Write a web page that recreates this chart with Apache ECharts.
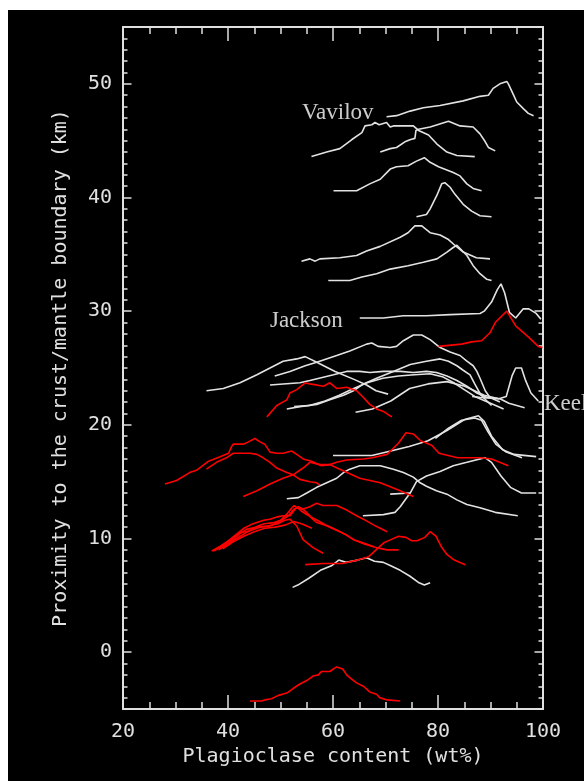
<!DOCTYPE html>
<html>
<head>
<meta charset="utf-8">
<script src="https://cdn.jsdelivr.net/npm/echarts@6/dist/echarts.min.js"></script>
<style>
html,body{margin:0;padding:0;background:#fff;width:584px;height:781px;overflow:hidden;}
#chart{position:absolute;left:8px;top:10px;width:576px;height:771px;}
</style>
</head>
<body>
<div id="chart"></div>
<script>
// ---- axis ranges / ticks ----
const xRange = [20, 100];
const yRange = [-5, 55];
const yMajorTicks = [0, 10, 20, 30, 40, 50];

// ---- annotations: [text, x, y] ----
const annotations = [
  ['Vavilov', 53.9, 47.4],
  ['Jackson', 47.8, 29.1],
  ['Keeler', 100, 21.8]
];

// ---- white profiles ----
const wVavilov = [[70.2,47.1],[72.1,47.2],[74.7,47.6],[77.2,47.9],[80.4,48.1],[84.8,48.5],[88.0,48.9],[89.6,49.0],[90.5,49.6],[91.8,50.0],[93.1,50.2],[93.4,50.0],[94.4,49.0],[95.0,48.4],[96.3,47.8],[97.2,47.4],[98.2,47.2]];
const wV2 = [[55.9,43.6],[58.8,44.0],[61.3,44.3],[63.6,45.1],[65.5,45.7],[66.1,46.3],[67.4,46.4],[68.0,46.6],[68.8,46.4],[70.2,46.6],[70.9,46.2],[71.5,46.3],[75.3,46.3],[76.3,45.9],[78.2,45.5],[79.8,44.7],[81.7,44.0],[83.6,43.7],[87.0,43.6]];
const wV3 = [[69.0,44.0],[70.9,44.3],[72.1,44.4],[73.7,44.9],[74.8,45.1],[75.6,45.2],[75.8,45.9],[76.3,46.0],[78.5,46.2],[82.0,46.7],[84.2,46.3],[86.7,46.2],[88.0,45.6],[89.0,44.9],[89.6,44.4],[90.9,44.1]];
const wV4 = [[60.1,40.6],[64.5,40.6],[67.0,41.2],[69.0,41.6],[70.9,42.5],[72.1,42.7],[74.3,42.8],[75.9,43.2],[77.4,43.5],[78.5,43.1],[80.1,42.7],[82.9,42.2],[84.2,41.9],[85.5,41.2],[86.7,40.8],[88.3,40.6]];
const wV5 = [[75.9,38.3],[77.8,38.5],[78.5,39.0],[79.8,40.2],[80.7,41.2],[81.3,41.3],[82.3,40.9],[83.2,40.3],[84.8,39.4],[86.4,38.8],[88.0,38.4],[90.2,38.3]];
const wV6 = [[54.0,34.4],[55.6,34.6],[56.6,34.4],[57.5,34.6],[61.3,34.7],[64.5,34.9],[66.4,35.3],[69.0,35.7],[72.8,36.5],[74.3,36.9],[75.6,37.5],[76.9,37.5],[78.5,36.9],[80.4,36.7],[82.0,36.3],[83.2,35.8],[84.8,35.2],[87.3,34.7],[89.9,34.6]];
const wV7 = [[59.1,32.7],[63.2,32.7],[65.5,33.0],[68.3,33.3],[70.9,33.7],[74.3,34.0],[77.2,34.3],[79.8,34.6],[81.7,35.2],[82.9,35.6],[83.6,35.8],[85.5,34.9],[86.7,34.0],[88.0,33.3],[89.3,32.8],[90.2,32.7]];
const wJackson = [[65.1,29.4],[69.6,29.4],[73.4,29.6],[77.8,29.6],[82.3,29.7],[88.0,29.8],[88.8,30.0],[90.2,30.8],[91.3,31.9],[92.0,32.4],[92.7,31.6],[93.6,29.9],[94.8,29.4],[96.2,30.2],[97.3,30.2],[98.7,29.8],[99.6,29.3]];
const wC1 = [[35.9,23.0],[39.1,23.2],[42.3,23.7],[45.5,24.4],[48.0,25.0],[50.5,25.6],[53.1,25.8],[54.7,26.0],[56.9,25.5],[60.4,24.7],[64.0,24.0],[66.4,23.5],[68.2,23.0],[70.5,22.7]];
const wC2 = [[48.9,24.3],[51.8,24.7],[54.7,25.2],[56.9,25.5],[60.7,26.1],[63.2,26.5],[66.4,27.1],[67.4,27.2],[68.6,26.9],[70.9,26.8],[72.1,26.9],[73.4,27.4],[75.3,27.9],[76.9,27.9],[78.5,27.5],[80.4,26.8],[82.3,26.4],[84.2,26.1],[85.5,25.6],[86.7,25.2],[87.4,24.7],[88.0,24.1],[89.0,23.0],[89.9,22.4],[91.8,22.0]];
const wC3 = [[48.0,23.5],[53.7,23.7],[55.6,23.9],[60.1,24.4],[62.6,24.7],[65.1,24.7],[67.0,24.6],[69.6,24.7],[72.8,24.7],[75.3,24.6],[77.8,24.7],[79.7,24.6],[81.7,24.3],[83.6,23.9],[85.5,23.4],[87.4,22.8],[89.3,22.4],[91.8,22.3],[93.5,21.9],[96.5,21.5]];
const wC4a = [[51.2,21.4],[53.7,21.6],[56.9,21.8],[59.4,22.2],[62.0,22.6],[63.9,23.0],[65.8,23.6],[68.3,24.1],[71.5,24.7],[74.7,25.3],[77.8,25.6],[80.4,25.8],[82.0,25.6],[83.6,25.2],[84.8,24.8],[86.1,24.4],[87.0,23.6],[88.2,22.6],[90.2,21.7]];
const wC4b = [[52.6,21.6],[55.5,21.7],[58.5,22.1],[61.2,22.6],[63.5,23.1],[66.5,23.7],[69.5,24.1],[72.5,24.3],[75.5,24.4],[78.5,24.5],[81.0,24.2],[83.0,23.7],[85.0,23.1],[87.0,22.5],[90.0,21.9],[92.5,21.4]];
const wC5 = [[64.3,21.1],[67.5,21.4],[71.0,22.1],[74.6,23.2],[78.1,23.6],[81.7,23.8],[85.1,23.4],[88.8,22.6],[91.6,22.3]];
const wKeeler = [[86.5,22.5],[88.1,22.4],[91.6,22.3],[93.0,22.5],[94.1,24.3],[94.8,25.0],[95.9,25.0],[96.6,24.0],[97.7,22.8],[99.1,22.1]];
const wB1 = [[60.0,17.3],[67.4,17.3],[71.0,17.7],[74.5,18.1],[78.1,18.6],[81.7,19.5],[85.2,20.5],[87.7,20.8],[88.8,20.3],[90.2,19.0],[92.3,17.8],[94.5,17.4],[98.7,17.2]];
const wB2 = [[79.5,18.8],[82.0,19.7],[84.5,20.4],[87.0,20.6],[88.3,20.4],[89.5,19.4],[91.0,18.3],[93.0,17.6],[96.0,17.1]];
const wCc = [[51.2,13.5],[53.4,13.6],[55.0,14.0],[56.9,14.5],[58.8,14.9],[60.7,15.3],[62.0,15.8],[63.2,16.1],[65.1,16.4],[67.0,16.4],[69.0,16.4],[71.5,16.1],[73.4,15.8],[75.3,15.4],[76.6,14.9],[77.8,14.6],[79.7,14.2],[81.7,13.9],[83.6,13.4],[85.5,13.0],[88.0,12.7],[90.9,12.3],[95.2,12.0]];
const wD = [[65.7,12.0],[69.6,12.1],[71.8,12.3],[72.8,12.8],[73.9,13.5],[74.7,14.0],[75.9,15.0],[77.8,15.5],[80.4,15.9],[82.9,16.4],[85.5,16.7],[88.0,17.0],[89.0,17.1],[90.2,16.7],[92.0,15.5],[93.8,14.5],[95.9,14.0],[98.7,14.0]];
const wE = [[70.9,13.9],[74.7,14.0]];
const wF = [[52.3,5.7],[53.3,5.9],[55.4,6.5],[57.6,7.2],[59.7,7.6],[61.1,8.1],[62.5,7.9],[64.7,8.1],[66.4,8.3],[67.9,8.0],[69.6,7.9],[71.0,7.6],[72.8,7.2],[74.6,6.7],[76.4,6.1],[77.4,5.9],[78.5,6.1]];

// ---- red profiles ----
const rJ = [[80.1,26.9],[84.5,27.1],[86.4,27.3],[88.3,27.4],[89.9,28.1],[90.9,29.0],[93.1,30.0],[94.8,28.7],[97.3,27.7],[99.1,26.9],[99.9,26.8]];
const rC = [[47.4,20.7],[49.3,21.7],[51.2,22.2],[51.8,22.8],[53.1,23.1],[54.7,23.7],[55.6,23.6],[58.2,23.4],[59.4,23.7],[60.7,23.2],[62.6,23.3],[64.5,23.0],[65.8,22.4],[67.0,21.8],[68.3,21.4],[69.5,21.2],[71.2,20.7]];
const rB = [[42.9,13.7],[45.5,14.2],[48.0,14.8],[50.5,15.3],[52.4,15.6],[54.3,16.2],[55.6,16.7],[57.5,16.5],[59.4,16.5],[60.7,16.7],[62.6,16.9],[65.8,17.0],[67.5,17.1],[70.3,17.4],[72.5,18.4],[73.9,19.3],[75.3,19.2],[76.7,18.6],[78.8,18.2],[80.2,17.5],[83.7,17.1],[85.9,17.1],[88.0,17.1],[90.2,17.0],[93.4,16.4]];
const rA = [[28.0,14.8],[30.2,15.1],[32.7,15.8],[34.0,16.0],[36.3,16.8],[38.5,17.2],[40.1,17.5],[40.7,18.1],[41.0,18.3],[42.9,18.3],[43.9,18.5],[45.1,18.8],[46.1,18.5],[47.0,18.3],[48.0,17.6],[49.3,17.5],[50.5,17.5],[52.1,17.7],[53.1,17.4],[54.3,17.0],[55.9,16.8],[57.8,16.4],[59.4,16.5],[61.3,16.1],[65.1,15.3],[69.0,14.9],[72.8,14.2],[75.3,13.7]];
const rA2 = [[35.9,16.1],[37.8,16.7],[39.7,17.1],[41.0,17.5],[44.2,17.5],[45.5,17.4],[46.7,17.1],[48.0,16.7],[49.3,16.2],[51.2,15.8],[52.4,15.6],[53.7,15.2],[55.6,15.0],[56.9,14.9],[57.5,14.7]];
const rL1 = [[36.9,8.9],[38.5,9.3],[40.4,9.9],[41.7,10.4],[43.0,10.9],[44.3,11.2],[45.5,11.4],[46.8,11.6],[48.0,11.7],[49.3,11.9],[50.5,12.0],[51.8,12.0],[52.8,12.6],[53.4,12.8],[54.3,12.6],[55.6,12.8],[56.9,13.1],[58.1,12.9],[59.4,12.9],[60.7,12.9],[62.6,12.5],[64.5,12.0],[65.8,11.7],[67.7,11.2],[69.0,10.9],[70.3,10.6]];
const rL2 = [[37.2,8.9],[39.0,9.3],[40.8,9.9],[42.5,10.5],[44.3,10.7],[46.1,11.0],[48.0,11.1],[49.9,11.5],[51.5,12.0],[52.6,12.6],[53.3,12.7],[54.0,12.4],[55.4,12.0],[56.9,11.4],[59.0,11.1],[61.8,10.5],[64.0,9.9],[66.1,9.5],[68.2,9.2],[70.3,9.0],[72.5,9.0]];
const rL3 = [[37.5,9.0],[39.5,9.6],[41.5,10.3],[43.5,10.8],[45.5,11.0],[47.5,11.1],[49.5,11.3],[50.8,11.6],[51.8,11.7],[53.1,11.1],[54.3,9.9],[56.2,9.2],[58.1,8.7]];
const rL4 = [[38.2,9.0],[40.0,9.5],[41.6,10.0],[43.8,10.6],[45.7,11.1],[46.9,11.3],[48.8,11.4],[50.0,11.6],[51.3,12.2],[52.2,12.7],[52.6,12.9],[53.2,12.7],[54.5,12.5],[55.8,11.9],[57.0,11.6],[58.9,11.1],[60.8,10.7],[62.6,10.3],[63.9,9.9],[65.8,9.6],[67.7,9.3]];
const rL5 = [[39.0,9.1],[41.0,9.7],[43.0,10.2],[45.0,10.6],[47.0,10.9],[49.0,11.0],[51.0,11.2],[52.5,11.5],[54.0,11.3],[56.0,10.9]];
const rM = [[54.7,7.7],[58.3,7.8],[61.8,7.8],[64.7,8.1],[66.8,8.4],[68.2,9.0],[69.6,9.6],[71.0,9.9],[72.5,10.2],[73.9,10.1],[75.0,9.8],[76.0,9.8],[77.5,10.1],[78.5,10.6],[79.6,10.2],[80.6,9.3],[81.7,8.6],[83.1,8.1],[85.2,7.7]];
const rBottom = [[44.2,-4.3],[46.4,-4.3],[47.0,-4.2],[48.3,-4.1],[49.6,-3.8],[51.2,-3.6],[52.4,-3.2],[53.7,-2.8],[55.0,-2.5],[56.2,-2.1],[57.2,-2.0],[57.8,-1.7],[59.4,-1.7],[60.0,-1.5],[60.7,-1.3],[61.3,-1.4],[61.9,-1.5],[62.6,-2.0],[63.6,-2.4],[64.5,-2.7],[65.8,-3.0],[67.0,-3.5],[68.3,-3.7],[68.9,-4.0],[70.3,-4.2],[72.8,-4.3]];

const whiteProfiles = [wVavilov,wV2,wV3,wV4,wV5,wV6,wV7,wJackson,wC1,wC2,wC3,wC4a,wC4b,wC5,wKeeler,wB1,wB2,wCc,wD,wE,wF];
const redProfiles = [rJ,rC,rB,rA,rA2,rL1,rL2,rL3,rL4,rL5,rM,rBottom];

const WHITE = '#e2e2e2';
const RED = '#ff0000';
const AXIS = '#e0e0e0';
const axisFont = 'DejaVu Sans Mono';

function lineSeries(data, color) {
  return {
    type: 'line', data: data, xAxisIndex: 0, yAxisIndex: 0,
    symbol: 'none', showSymbol: false, silent: true, animation: false,
    lineStyle: { color: color, width: 1.6 }, clip: true
  };
}

const series = [];
whiteProfiles.forEach(d => series.push(lineSeries(d, WHITE)));
redProfiles.forEach(d => series.push(lineSeries(d, RED)));
series.push({
  type: 'scatter', xAxisIndex: 0, yAxisIndex: 0, symbolSize: 0, silent: true, animation: false,
  data: annotations.map(a => ({ name: a[0], value: [a[1], a[2]] })),
  label: { show: true, position: 'right', distance: 1, formatter: '{b}', color: '#ffffff',
           fontFamily: 'Liberation Serif', fontSize: 23 }
});

const tickStyle = { color: AXIS, width: 1.5 };
function xAx(pos, withLabels) {
  return {
    type: 'value', position: pos, min: xRange[0], max: xRange[1], interval: 20,
    axisLine: { show: true, onZero: false, lineStyle: { color: AXIS, width: 2 } },
    axisTick: { show: true, inside: true, length: 14, lineStyle: tickStyle },
    minorTick: { show: true, splitNumber: 4, length: 7, lineStyle: tickStyle },
    splitLine: { show: false }, minorSplitLine: { show: false },
    axisLabel: { show: withLabels, color: AXIS, fontFamily: axisFont, fontSize: 20, margin: 13 },
    name: withLabels ? 'Plagioclase content (wt%)' : '',
    nameLocation: 'middle', nameGap: 37,
    nameTextStyle: { color: AXIS, fontFamily: axisFont, fontSize: 20 }
  };
}
function yMajor(pos, withLabels) {
  return {
    type: 'value', position: pos, min: yRange[0], max: yRange[1],
    axisLine: { show: true, onZero: false, lineStyle: { color: AXIS, width: 2 } },
    axisTick: { show: true, inside: true, length: 8.5, lineStyle: tickStyle, customValues: yMajorTicks },
    splitLine: { show: false },
    axisLabel: { show: withLabels, color: AXIS, fontFamily: axisFont, fontSize: 20, margin: 11, customValues: yMajorTicks },
    name: withLabels ? 'Proximity to the crust/mantle boundary (km)' : '',
    nameLocation: 'middle', nameGap: 52, nameRotate: 90,
    nameTextStyle: { color: AXIS, fontFamily: axisFont, fontSize: 20 }
  };
}
function yMinor(pos) {
  return {
    type: 'value', position: pos, min: yRange[0], max: yRange[1], interval: 1,
    axisLine: { show: false },
    axisTick: { show: true, inside: true, length: 4.5, lineStyle: tickStyle },
    splitLine: { show: false }, axisLabel: { show: false }
  };
}

const chart = echarts.init(document.getElementById('chart'), null, { renderer: 'canvas' });
chart.setOption({
  backgroundColor: '#000000',
  animation: false,
  grid: { left: 115, right: 41, top: 17, bottom: 72, containLabel: false, outerBoundsMode: 'none' },
  xAxis: [xAx('bottom', true), xAx('top', false)],
  yAxis: [yMajor('left', true), yMinor('left'), yMajor('right', false), yMinor('right')],
  series: series
});
</script>
</body>
</html>
